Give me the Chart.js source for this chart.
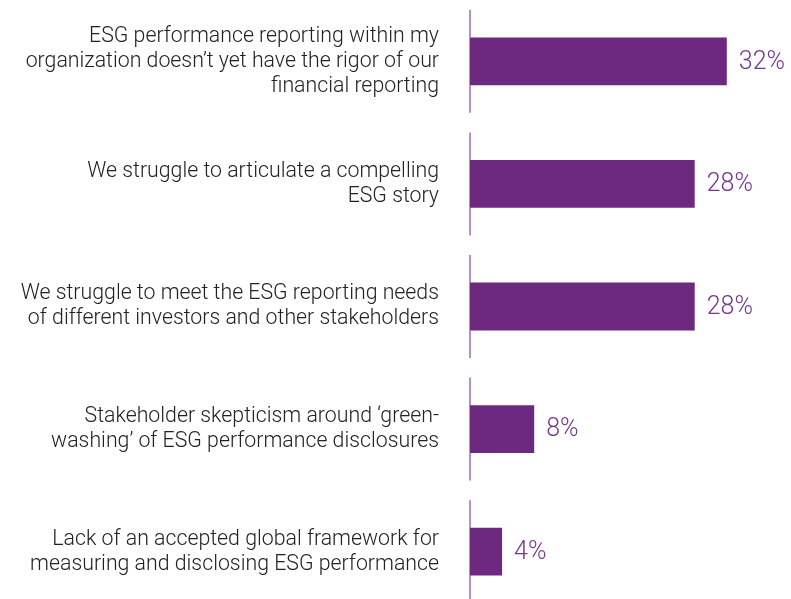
<!DOCTYPE html>
<html lang="en">
<head>
  <meta charset="UTF-8" />
  <title>ESG reporting challenges</title>
  <script src="https://cdn.jsdelivr.net/npm/chart.js"></script>
  <style>
    * {
      margin: 0;
      padding: 0;
      box-sizing: border-box;
    }

    body {
      background: #ffffff;
      overflow: hidden;
    }

    .chart-container {
      width: 791px;
      height: 613px;
    }
  </style>
</head>
<body>
  <div class="chart-container">
    <canvas id="esgChart"></canvas>
  </div>

  <script>
    // data
    const categories = [
      ['ESG performance reporting within my', 'organization doesn\u2019t yet have the rigor of our', 'financial reporting'],
      ['We struggle to articulate a compelling', 'ESG story'],
      ['We struggle to meet the ESG reporting needs', 'of different investors and other stakeholders'],
      ['Stakeholder skepticism around \u2018green-', 'washing\u2019 of ESG performance disclosures'],
      ['Lack of an accepted global framework for', 'measuring and disclosing ESG performance']
    ];
    const shares = [32, 28, 28, 8, 4];
    const valueLabels = ['32%', '28%', '28%', '8%', '4%'];

    const barColor = '#6d2880';
    const axisColor = '#b98fcb';
    const valueColor = '#763690';

    // short vertical axis piece beside each bar
    const axisSegments = {
      id: 'axisSegments',
      beforeDatasetsDraw(chart) {
        const yScale = chart.scales.y;
        const x = chart.chartArea.left;
        const ctx = chart.ctx;
        ctx.save();
        ctx.strokeStyle = axisColor;
        ctx.lineWidth = 2;
        categories.forEach((c, i) => {
          const y = yScale.getPixelForValue(i);
          ctx.beginPath();
          ctx.moveTo(x, y - 51.5);
          ctx.lineTo(x, y + 51.5);
          ctx.stroke();
        });
        ctx.restore();
      }
    };

    const barValues = {
      id: 'barValues',
      afterDatasetsDraw(chart) {
        const ctx = chart.ctx;
        const meta = chart.getDatasetMeta(0);
        ctx.save();
        ctx.fillStyle = valueColor;
        ctx.font = '300 25px Roboto';
        ctx.textAlign = 'left';
        ctx.textBaseline = 'middle';
        meta.data.forEach((bar, i) => {
          ctx.fillText(valueLabels[i], bar.x + 12, bar.y + 1);
        });
        ctx.restore();
      }
    };

    const ctx = document.getElementById('esgChart').getContext('2d');

    new Chart(ctx, {
      type: 'bar',
      data: {
        labels: categories,
        datasets: [{
          data: shares,
          backgroundColor: barColor,
          borderWidth: 0,
          barPercentage: 0.39,
          categoryPercentage: 1
        }]
      },
      options: {
        indexAxis: 'y',
        responsive: true,
        maintainAspectRatio: false,
        animation: false,
        layout: { padding: 0 },
        plugins: {
          legend: { display: false },
          tooltip: { enabled: false }
        },
        scales: {
          x: {
            display: false,
            min: 0,
            max: 40
          },
          y: {
            afterFit(scale) {
              scale.width = 470;
              // let the bars use the full height
              scale.paddingTop = 0;
              scale.paddingBottom = 0;
            },
            grid: { display: false, drawTicks: false },
            border: { display: false },
            ticks: {
              padding: 31,
              color: '#222222',
              font: { family: 'Roboto', size: 21.3, weight: 300, lineHeight: '25px' }
            }
          }
        }
      },
      plugins: [axisSegments, barValues]
    });
  </script>
</body>
</html>
